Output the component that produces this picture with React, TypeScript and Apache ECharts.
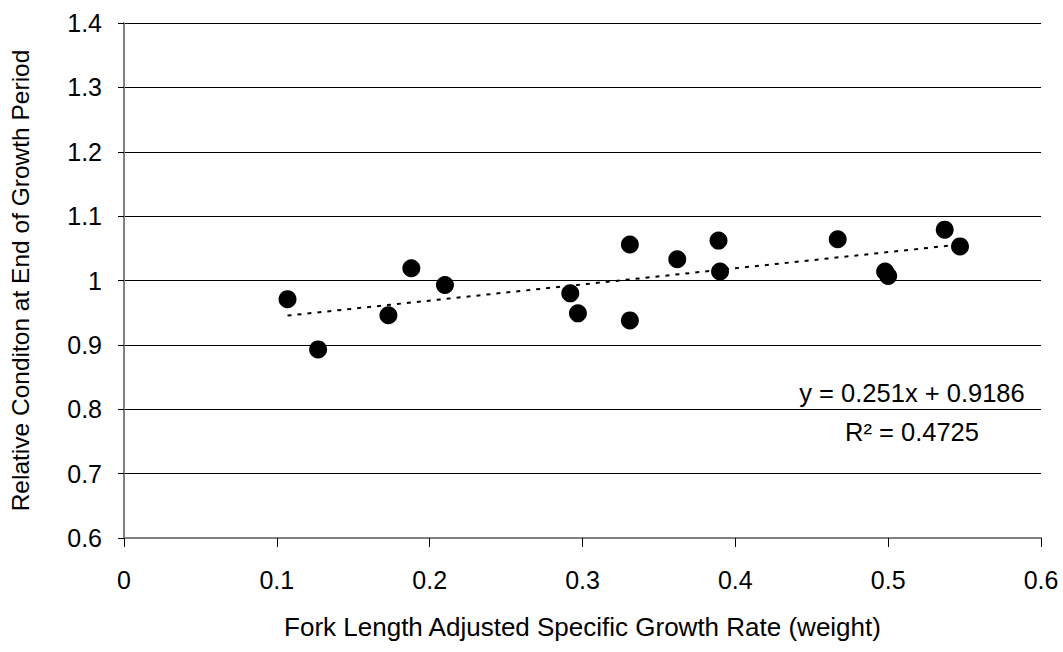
import React, { useEffect, useRef } from "react";
import * as echarts from "echarts";

const growthRate = [0.107, 0.127, 0.173, 0.188, 0.21, 0.292, 0.297, 0.331, 0.331, 0.362, 0.389, 0.39, 0.467, 0.498, 0.5, 0.537, 0.547];
const relCondition = [0.971, 0.893, 0.946, 1.019, 0.993, 0.98, 0.949, 1.056, 0.938, 1.033, 1.062, 1.014, 1.064, 1.014, 1.007, 1.079, 1.053];
const trendSlope = 0.251;
const trendIntercept = 0.9186;
const equationText = "y = 0.251x + 0.9186";
const r2Text = "R² = 0.4725";
const xTitle = "Fork Length Adjusted Specific Growth Rate (weight)";
const yTitle = "Relative Conditon at End of Growth Period";

export default function App() {
  const ref = useRef<HTMLDivElement>(null);
  useEffect(() => {
    if (!ref.current) return;
    const chart = echarts.init(ref.current, null, { renderer: "svg" });
    const points = growthRate.map((x, i) => [x, relCondition[i]]);
    const xMin = Math.min(...growthRate);
    const xMax = Math.max(...growthRate);
    const trend = [
      [xMin, trendSlope * xMin + trendIntercept],
      [xMax, trendSlope * xMax + trendIntercept],
    ];
    const font = "'Liberation Sans', Arial, sans-serif";
    chart.setOption({
      animation: false,
      backgroundColor: "#ffffff",
      textStyle: { fontFamily: font },
      grid: { left: 124, right: 22, top: 23, bottom: 114, containLabel: false },
      xAxis: {
        type: "value",
        min: 0,
        max: 0.6,
        interval: 0.1,
        name: xTitle,
        nameLocation: "middle",
        nameGap: 76,
        nameTextStyle: { fontSize: 26, color: "#000", fontFamily: font },
        axisLine: { show: true, lineStyle: { color: "#808080", width: 2 } },
        axisTick: { show: true, inside: false, length: 9, lineStyle: { color: "#000", width: 1 } },
        axisLabel: { fontSize: 25, color: "#000", margin: 29, fontFamily: font, formatter: (v: number) => String(Math.round(v * 10) / 10) },
        splitLine: { show: false },
      },
      yAxis: {
        type: "value",
        min: 0.6,
        max: 1.4,
        interval: 0.1,
        name: yTitle,
        nameLocation: "middle",
        nameGap: 91,
        nameRotate: 90,
        nameTextStyle: { fontSize: 24.5, color: "#000", fontFamily: font },
        axisLine: { show: true, lineStyle: { color: "#808080", width: 2 } },
        axisTick: { show: true, inside: false, length: 6, lineStyle: { color: "#000", width: 1 } },
        axisLabel: { fontSize: 25, color: "#000", margin: 22, fontFamily: font, formatter: (v: number) => String(Math.round(v * 10) / 10) },
        splitLine: { show: true, lineStyle: { color: "#000", width: 1 } },
      },
      series: [
        {
          type: "line",
          data: trend,
          symbol: "none",
          lineStyle: { color: "#000", width: 2, type: [4, 6] },
          z: 2,
        },
        {
          type: "scatter",
          data: points,
          symbol: "circle",
          symbolSize: 18,
          itemStyle: { color: "#000", opacity: 1 },
          z: 3,
        },
      ],
      graphic: [
        {
          type: "text",
          x: 912,
          y: 393,
          style: { text: equationText, fontSize: 25.5, fill: "#000", align: "center", verticalAlign: "middle", fontFamily: font },
        },
        {
          type: "text",
          x: 912,
          y: 432,
          style: { text: r2Text, fontSize: 25.5, fill: "#000", align: "center", verticalAlign: "middle", fontFamily: font },
        },
      ],
    });
    return () => chart.dispose();
  }, []);
  return <div ref={ref} style={{ position: "fixed", left: 0, top: 0, width: 1063, height: 652 }} />;
}
